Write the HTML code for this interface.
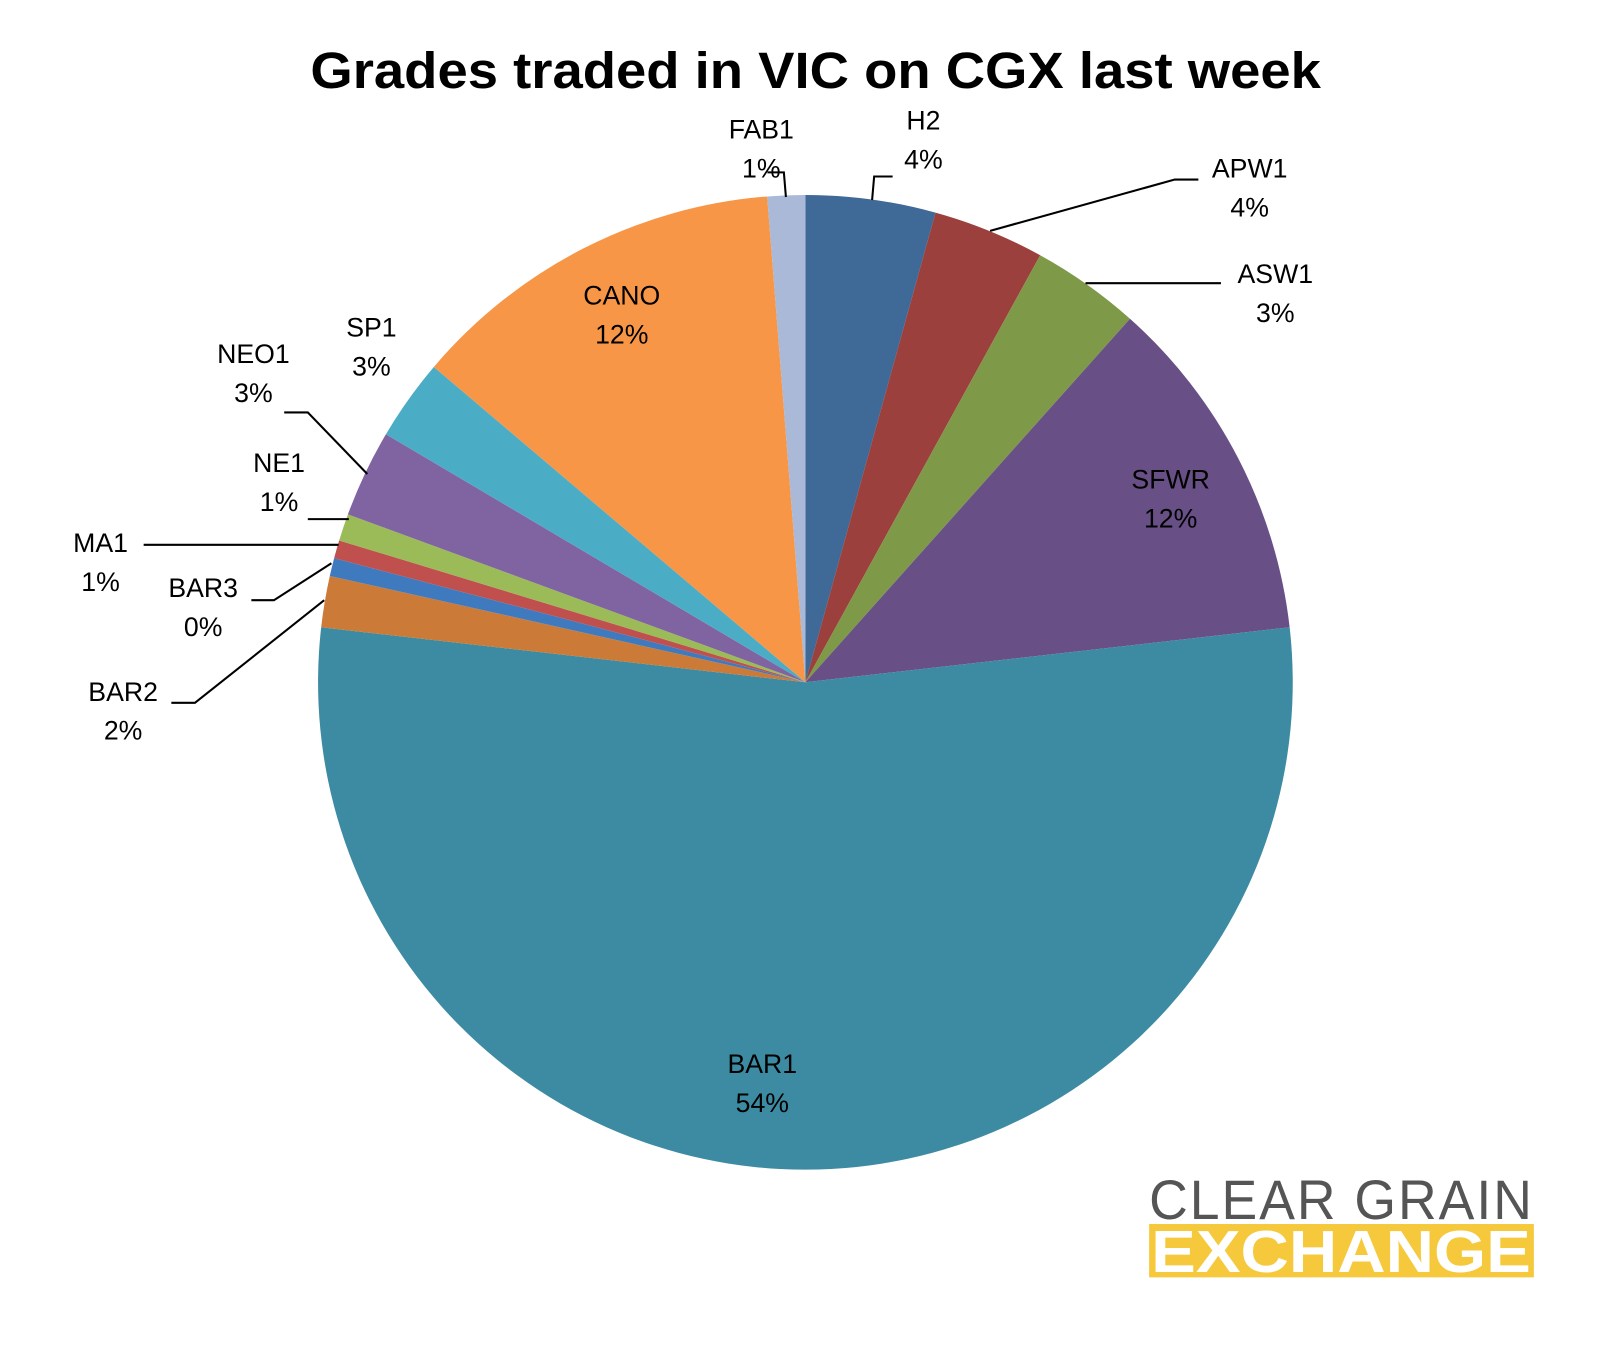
<!DOCTYPE html>
<html><head><meta charset="utf-8"><style>
body{margin:0;background:#fff;}
svg{display:block;font-family:"Liberation Sans",sans-serif;}
</style></head><body>
<svg id="chart" width="1609" height="1351">
<g transform="scale(1.026)">
<text x="795" y="86" text-anchor="middle" font-size="50" font-weight="bold" fill="#000" textLength="985" lengthAdjust="spacingAndGlyphs">Grades traded in VIC on CGX last week</text>
<g id="slices"></g>
<g id="labels" font-size="26" fill="#000"></g>
<g>
<text x="1120" y="1188" font-size="54" fill="#555" letter-spacing="2" textLength="375" lengthAdjust="spacingAndGlyphs">CLEAR GRAIN</text>
<rect x="1120" y="1193" width="375" height="52" fill="#f6c93d"/>
<text x="1307" y="1240" font-size="58" font-weight="bold" fill="#fff" text-anchor="middle" textLength="370" lengthAdjust="spacingAndGlyphs">EXCHANGE</text>
</g>
</g>
</svg>
<script>
const categories=["H2","APW1","ASW1","SFWR","BAR1","BAR2","BAR3","MA1","NE1","NEO1","SP1","CANO","FAB1"];
const values=[4.3,3.7,3.6,11.6,53.6,1.7,0.6,0.6,0.9,2.9,2.7,12.55,1.25];
const percentLabels=["4%","4%","3%","12%","54%","2%","0%","1%","1%","3%","3%","12%","1%"];
const colors=["#3f6997","#9b403d","#7e9a48","#684f86","#3d8ba2","#cc7a38","#3f7abf","#c0504d","#9bbb59","#8064a2","#4bacc6","#f79646","#a9b9d7"];
const labelPos=[[900,126],[1218,173],[1243,276],[1141,476],[743,1046],[120,683],[198,582],[98,538],[272,460],[247,354],[362,328],[606,297],[742,135]];
const leaders={0:[[850,195],[852,172],[870,172]],1:[[965,225],[1145,175],[1168,175]],2:[[1058,276],[1190,276]],5:[[316,585],[190,685],[167,685]],6:[[323,549],[267,585],[245,585]],7:[[330,531],[140,531]],8:[[340,506],[320,506],[300,506]],9:[[358,462],[300,402],[277,402]],12:[[766,192],[764,168],[748,168]]};
const cx=785,cy=665,r=475,NS="http://www.w3.org/2000/svg";
const total=values.reduce((a,b)=>a+b,0);
function pt(frac,rad){const a=frac*2*Math.PI;return [cx+rad*Math.sin(a),cy-rad*Math.cos(a)];}
const gS=document.getElementById('slices'),gL=document.getElementById('labels');
let acc=0;
values.forEach((v,i)=>{
 const s=acc/total,e=(acc+v)/total;acc+=v;
 const p0=pt(s,r),p1=pt(e,r);const large=(e-s)>0.5?1:0;
 const p=document.createElementNS(NS,'path');
 p.setAttribute('d',`M${cx},${cy}L${p0[0]},${p0[1]}A${r},${r} 0 ${large} 1 ${p1[0]},${p1[1]}Z`);
 p.setAttribute('fill',colors[i]);
 
 
 gS.appendChild(p);
 if(leaders[i]){const l=document.createElementNS(NS,'polyline');
  l.setAttribute('points',leaders[i].map(q=>q.join(',')).join(' '));
  l.setAttribute('fill','none');l.setAttribute('stroke','#000');l.setAttribute('stroke-width','2');
  
  
  gL.appendChild(l);}
 const t=document.createElementNS(NS,'text');
 t.setAttribute('x',labelPos[i][0]);t.setAttribute('y',labelPos[i][1]);t.setAttribute('text-anchor','middle');
 
 
 const a=document.createElementNS(NS,'tspan');a.setAttribute('x',labelPos[i][0]);a.textContent=categories[i];
 const b=document.createElementNS(NS,'tspan');b.setAttribute('x',labelPos[i][0]);b.setAttribute('dy','38');b.textContent=percentLabels[i];
 t.appendChild(a);t.appendChild(b);gL.appendChild(t);
});
</script>
</body></html>
